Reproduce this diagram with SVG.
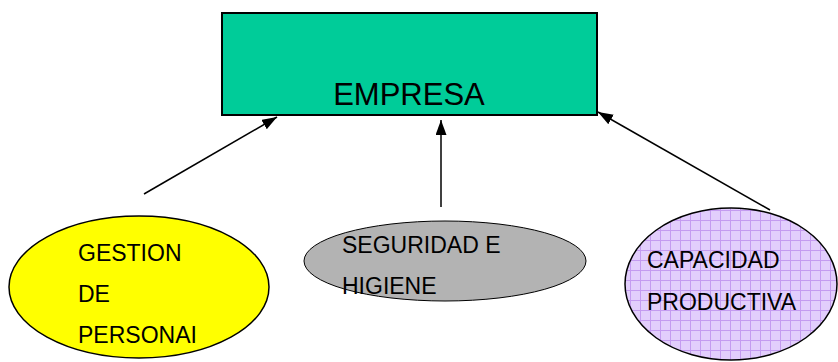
<svg xmlns="http://www.w3.org/2000/svg" width="838" height="362" viewBox="0 0 838 362">
<style>
text{font-family:"Liberation Sans",Arial,sans-serif;font-size:23px;fill:#000}
.c{stroke:#000;stroke-width:1.5;fill:none}
</style>
<defs>
<marker id="ah" markerUnits="userSpaceOnUse" markerWidth="16" markerHeight="12" refX="15" refY="5.5" orient="auto">
<path d="M0,0 L15,5.5 L0,11 z" fill="#000"/>
</marker>
<pattern id="grid" width="10" height="10" patternUnits="userSpaceOnUse">
<rect width="10" height="10" fill="#e2cefc"/>
<path d="M0,0.5 H10 M0.5,0 V10" stroke="#c49bf0" stroke-width="1"/>
</pattern>
</defs>
<rect width="838" height="362" fill="#fff"/>
<g id="connectors">
<line class="c" x1="144" y1="194" x2="277" y2="117" marker-end="url(#ah)"/>
<line class="c" x1="441" y1="207" x2="441" y2="120" marker-end="url(#ah)"/>
<line class="c" x1="770" y1="210" x2="598" y2="112" marker-end="url(#ah)"/>
</g>
<g id="empresa">
<rect x="222" y="13" width="375" height="102" fill="#00cc99" stroke="#000" stroke-width="2"/>
<text x="409" y="105" text-anchor="middle" style="font-size:31px">EMPRESA</text>
</g>
<g id="gestion">
<ellipse cx="139" cy="287" rx="130" ry="71" fill="#ffff00" stroke="#000" stroke-width="1.5"/>
<text x="78" y="261">GESTION</text>
<text x="78" y="302">DE</text>
<text x="78" y="343">PERSONAI</text>
</g>
<g id="seguridad">
<ellipse cx="445" cy="261" rx="141" ry="40" fill="#b3b3b3" stroke="#000" stroke-width="1"/>
<text x="342" y="253">SEGURIDAD E</text>
<text x="342" y="294">HIGIENE</text>
</g>
<g id="capacidad">
<ellipse cx="731" cy="284" rx="106" ry="76" fill="url(#grid)" stroke="#000" stroke-width="1.5"/>
<text x="647" y="268">CAPACIDAD</text>
<text x="647" y="310">PRODUCTIVA</text>
</g>
</svg>
